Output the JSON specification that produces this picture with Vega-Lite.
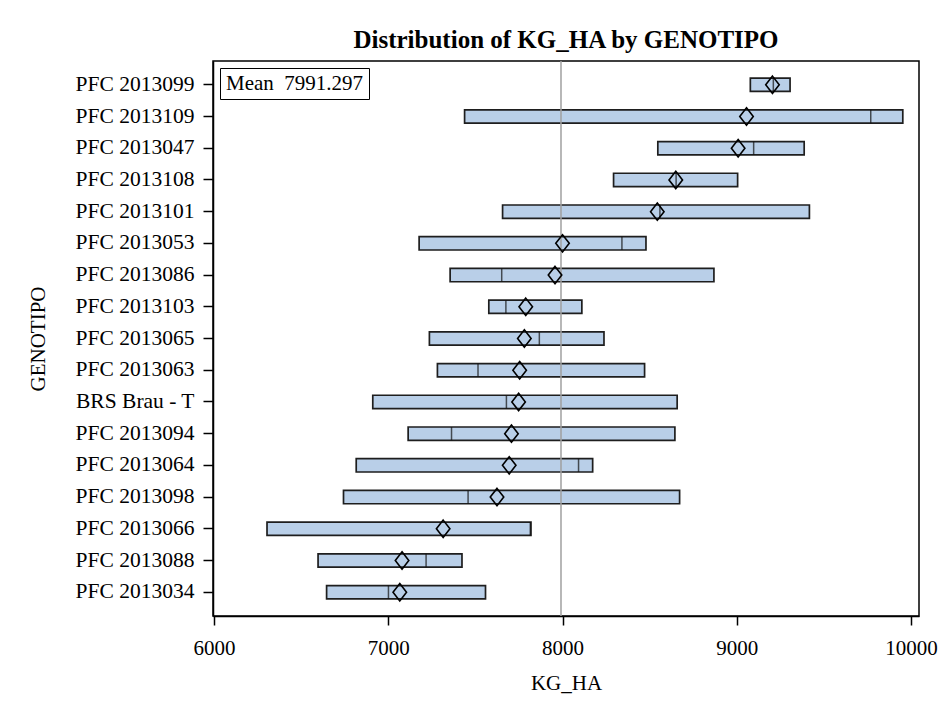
{
  "$schema": "https://vega.github.io/schema/vega-lite/v6.json",
  "autosize": "none",
  "width": 706,
  "height": 555,
  "padding": {"left": 213, "top": 61, "right": 21, "bottom": 95},
  "background": "white",
  "title": {
    "text": "Distribution of KG_HA by GENOTIPO",
    "font": "Liberation Serif",
    "fontSize": 25,
    "fontWeight": "bold",
    "color": "black",
    "anchor": "middle",
    "offset": 7
  },
  "data": {
    "values": [
      {"g": "PFC 2013099", "min": 9078, "median": 9210, "max": 9306, "mean": 9205},
      {"g": "PFC 2013109", "min": 7438, "median": 9769, "max": 9953, "mean": 9056},
      {"g": "PFC 2013047", "min": 8547, "median": 9097, "max": 9387, "mean": 9008},
      {"g": "PFC 2013108", "min": 8293, "median": 8652, "max": 9005, "mean": 8650},
      {"g": "PFC 2013101", "min": 7656, "median": 8559, "max": 9417, "mean": 8544},
      {"g": "PFC 2013053", "min": 7177, "median": 8341, "max": 8479, "mean": 8000},
      {"g": "PFC 2013086", "min": 7355, "median": 7651, "max": 8869, "mean": 7957},
      {"g": "PFC 2013103", "min": 7577, "median": 7675, "max": 8111, "mean": 7789},
      {"g": "PFC 2013065", "min": 7236, "median": 7867, "max": 8238, "mean": 7781},
      {"g": "PFC 2013063", "min": 7282, "median": 7515, "max": 8471, "mean": 7754},
      {"g": "BRS Brau - T", "min": 6911, "median": 7678, "max": 8658, "mean": 7748},
      {"g": "PFC 2013094", "min": 7114, "median": 7363, "max": 8645, "mean": 7707},
      {"g": "PFC 2013064", "min": 6816, "median": 8092, "max": 8173, "mean": 7694},
      {"g": "PFC 2013098", "min": 6743, "median": 7458, "max": 8672, "mean": 7624},
      {"g": "PFC 2013066", "min": 6304, "median": 7815, "max": 7819, "mean": 7315},
      {"g": "PFC 2013088", "min": 6597, "median": 7217, "max": 7423, "mean": 7079},
      {"g": "PFC 2013034", "min": 6646, "median": 7001, "max": 7558, "mean": 7066}
    ]
  },
  "encoding": {
    "y": {
      "field": "g",
      "type": "nominal",
      "sort": null,
      "title": "GENOTIPO",
      "scale": {"paddingInner": 0, "paddingOuter": 0.25},
      "axis": {
        "labelFont": "Liberation Serif",
        "labelFontSize": 21.5,
        "labelColor": "black",
        "labelPadding": 9,
        "tickSize": 10,
        "tickColor": "black",
        "tickWidth": 1.5,
        "domainColor": "black",
        "domainWidth": 1.5,
        "titleFont": "Liberation Serif",
        "titleFontSize": 21,
        "titleFontWeight": "normal",
        "titleColor": "black",
        "titlePadding": 27
      }
    }
  },
  "layer": [
    {
      "mark": {"type": "bar", "fill": "#b9cfe8", "stroke": "#1e1e1e", "strokeWidth": 1.7, "height": {"band": 0.42}},
      "encoding": {
        "x": {
          "field": "min",
          "type": "quantitative",
          "title": "KG_HA",
          "scale": {"domain": [5994, 10046], "nice": false, "zero": false},
          "axis": {
            "values": [6000, 7000, 8000, 9000, 10000],
            "format": "d",
            "grid": false,
            "labelFont": "Liberation Serif",
            "labelFontSize": 21,
            "labelColor": "black",
            "labelPadding": 12,
            "tickSize": 9,
            "tickColor": "black",
            "tickWidth": 1.5,
            "domainColor": "black",
            "domainWidth": 1.5,
            "titleFont": "Liberation Serif",
            "titleFontSize": 21,
            "titleFontWeight": "normal",
            "titleColor": "black",
            "titlePadding": 14
          }
        },
        "x2": {"field": "max"}
      }
    },
    {
      "mark": {"type": "tick", "color": "#111111", "thickness": 1.5, "size": 13.3},
      "encoding": {
        "x": {"field": "median", "type": "quantitative"}
      }
    },
    {
      "mark": {"type": "rule", "color": "#a0a0a0", "strokeWidth": 1.5},
      "data": {"values": [{"overall": 7991.297}]},
      "encoding": {
        "x": {"field": "overall", "type": "quantitative"},
        "y": null
      }
    },
    {
      "mark": {"type": "point", "filled": false, "stroke": "black", "strokeWidth": 1.6, "size": 300, "opacity": 1},
      "encoding": {
        "x": {"field": "mean", "type": "quantitative"},
        "shape": {
          "datum": "Mean",
          "scale": {"range": ["M0,-1L0.78,0L0,1L-0.78,0Z"]},
          "legend": {
            "orient": "top-left",
            "offset": 7,
            "title": null,
            "labelExpr": "'Mean\u00a0 7991.297'",
            "labelFont": "Liberation Serif",
            "labelFontSize": 21,
            "labelColor": "black",
            "labelOffset": -20,
            "symbolSize": 0,
            "symbolOpacity": 0,
            "symbolStrokeWidth": 0,
            "strokeColor": "black",
            "fillColor": "white",
            "padding": 5,
            "encode": {"symbols": {"update": {"size": {"value": 0}}}}
          }
        }
      }
    }
  ],
  "config": {
    "view": {"stroke": "black", "strokeWidth": 1.5},
    "font": "Liberation Serif"
  }
}
